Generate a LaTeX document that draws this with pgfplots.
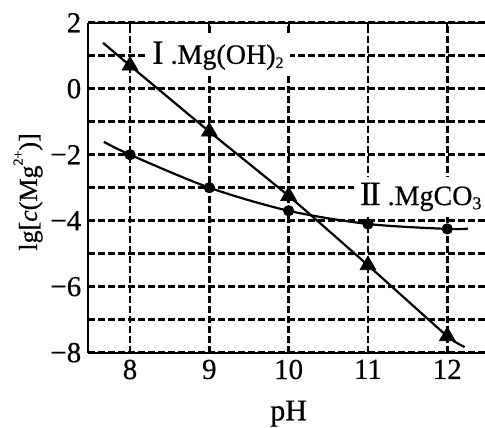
\documentclass[border=0pt]{standalone}
\usepackage{fontspec}
\setmainfont{Liberation Serif}[FakeBold=0.5]
\usepackage{pgfplots}
\usepackage{pgfplotstable}
\pgfplotsset{compat=1.18}
\usetikzlibrary{calc}

% curve I, Mg(OH)2: line ends read off the picture, then the measured points
\pgfplotstableread{
ph lg
7.66 1.39
8 0.7
9 -1.3
10 -3.25
11 -5.35
12 -7.5
12.22 -7.83
}\hydroxidecurve
\pgfplotstableread{
ph lg
8 0.7
9 -1.3
10 -3.25
11 -5.35
12 -7.5
}\hydroxidepts

% curve II, MgCO3
\pgfplotstableread{
ph lg
7.67 -1.61
8 -2.0
9 -3.0
10 -3.7
11 -4.1
12 -4.25
12.26 -4.24
}\carbonatecurve
\pgfplotstableread{
ph lg
8 -2.0
9 -3.0
10 -3.7
11 -4.1
12 -4.25
}\carbonatepts

\begin{document}
\begin{tikzpicture}
\begin{axis}[
    width=198.35pt, height=165pt, scale only axis,
    xmin=7.474, xmax=12.476, ymin=-8, ymax=2,
    axis x line=box, axis y line=left,
    axis line style={line width=1pt, black},
    y axis line style={-},
    every outer y axis line/.append style={-},
    xtick={8,...,12}, xticklabels={8,9,10,11,12},
    ytick={-8,...,2}, yticklabels={−8,,−6,,−4,,−2,,0,,2},
    tick align=inside, major tick length=3pt,
    tick style={line width=1pt, black},
    grid=major,
    major grid style={black, line width=1.3pt, dash pattern=on 3.3pt off 1.7pt},
    tick label style={font=\fontsize{14.5}{16}\selectfont},
    xlabel={pH},
    ylabel={lg[\textit{c}(Mg\raisebox{0.55em}{\fontsize{7}{7}\selectfont 2+})]},
    xlabel style={font=\fontsize{15}{17}\selectfont, at={(axis description cs:0.505,0)}, anchor=center, yshift=-30.5pt},
    ylabel style={font=\fontsize{13}{15}\selectfont, at={(axis description cs:-0.152,0.487)}, anchor=center},
    clip=false,
  ]
  % labels first, so they blank the grid but stay under the curves
  \node[anchor=west, fill=white, inner sep=3pt, font=\fontsize{14}{16}\selectfont]
    at (axis cs:8.2,1.0) {{\fontsize{17}{17}\selectfont I} .Mg(OH)\raisebox{-0.15em}{\fontsize{8}{8}\selectfont 2}};
  \node[anchor=west, fill=white, inner sep=3pt, font=\fontsize{14}{16}\selectfont]
    at (axis cs:10.82,-3.28) {{\fontsize{17}{17}\selectfont I\kern-0.06em I} .MgCO\raisebox{-0.15em}{\fontsize{9}{9}\selectfont 3}};

  \addplot[black, line width=1.1pt, smooth, tension=0.3] table[x=ph, y=lg] {\hydroxidecurve};
  \addplot[black, line width=1.1pt, smooth, tension=0.5] table[x=ph, y=lg] {\carbonatecurve};
  \addplot[black, only marks, mark=triangle*, mark size=4.5pt] table[x=ph, y=lg] {\hydroxidepts};
  \addplot[black, only marks, mark=*, mark size=2.6pt] table[x=ph, y=lg] {\carbonatepts};
\end{axis}
\pgfresetboundingbox
\path ($(current axis.south west)+(-44.15pt,-37.65pt)$) rectangle ($(current axis.north east)+(0pt,11.35pt)$);
\end{tikzpicture}
\end{document}
